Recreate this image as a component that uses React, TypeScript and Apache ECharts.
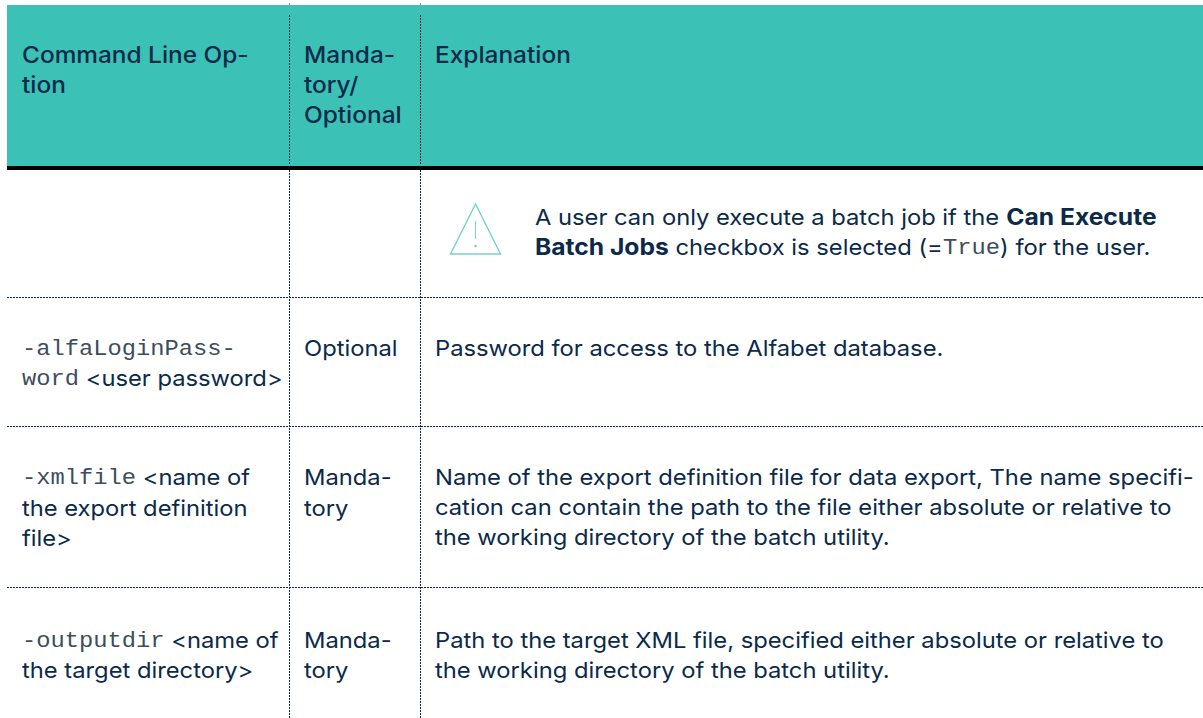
import React, { useEffect, useRef } from "react";
import * as echarts from "echarts";

const SANS = "Inter";
const MONO = "Liberation Mono";
const NAVY = "#0b2a4a";
const TEAL = "#3bc1b6";

// [x, y, text] — rich markup: {b|bold} {m|mono}
const headerLines: [number, number, string][] = [
  [22, 55, "Command Line Op-"],
  [22, 85, "tion"],
  [304, 55, "Manda-"],
  [304, 85, "tory/"],
  [304, 115, "Optional"],
  [435, 55, "Explanation"],
];
const bodyLines: [number, number, string][] = [
  [535, 217, "A user can only execute a batch job if the {b|Can Execute}"],
  [535, 247, "{b|Batch Jobs} checkbox is selected (={m|True}) for the user."],
  [22, 348, "{m|-alfaLoginPass-}"],
  [22, 378, "{m|word} <user password>"],
  [304, 348, "Optional"],
  [435, 348, "Password for access to the Alfabet database."],
  [22, 477, "{m|-xmlfile} <name of"],
  [22, 508, "the export definition"],
  [22, 538, "file>"],
  [304, 477, "Manda-"],
  [304, 508, "tory"],
  [435, 477, "Name of the export definition file for data export, The name specifi-"],
  [435, 507, "cation can contain the path to the file either absolute or relative to"],
  [435, 537, "the working directory of the batch utility."],
  [22, 640, "{m|-outputdir} <name of"],
  [22, 670, "the target directory>"],
  [304, 640, "Manda-"],
  [304, 670, "tory"],
  [435, 640, "Path to the target XML file, specified either absolute or relative to"],
  [435, 670, "the working directory of the batch utility."],
];
const columnRules = [289.5, 420.5];
const rowRules = [297.5, 426.5, 587.5];

function App() {
  const ref = useRef<HTMLDivElement>(null);
  useEffect(() => {
    const chart = echarts.init(ref.current!, undefined, { renderer: "svg" });
    const rich = {
      b: { fontFamily: SANS, fontSize: 22.8, fontWeight: 700, fill: NAVY },
      m: { fontFamily: MONO, fontSize: 22, fill: "#3d4d60", padding: [3, 0, 0, 0] },
    };
    const textEl = (l: [number, number, string], weight: number, size: number, z: number) => ({
      type: "text",
      x: l[0],
      y: l[1],
      scaleX: 1.08,
      z,
      style: {
        text: l[2],
        fontFamily: SANS,
        fontSize: size,
        fontWeight: weight,
        fill: NAVY,
        verticalAlign: "middle",
        rich,
      },
    });
    const elements: any[] = [
      { type: "rect", z: 0, shape: { x: 7, y: 5, width: 1196, height: 161 }, style: { fill: TEAL } },
      { type: "rect", z: 1, shape: { x: 7, y: 166, width: 1196, height: 4 }, style: { fill: "#000" } },
    ];
    for (const x of columnRules) {
      elements.push({ type: "line", z: 2, shape: { x1: x, y1: 3, x2: x, y2: 5 }, style: { stroke: "#7f8fa3", lineWidth: 1, lineDash: [2, 1] } });
      elements.push({ type: "line", z: 2, shape: { x1: x, y1: 15, x2: x, y2: 165 }, style: { stroke: NAVY, lineWidth: 1, lineDash: [2, 1] } });
      elements.push({ type: "line", z: 2, shape: { x1: x, y1: 170, x2: x, y2: 718 }, style: { stroke: NAVY, lineWidth: 1, lineDash: [2, 1] } });
    }
    for (const y of rowRules) {
      elements.push({ type: "line", z: 2, shape: { x1: 7, y1: y, x2: 1203, y2: y }, style: { stroke: NAVY, lineWidth: 1, lineDash: [2, 1] } });
    }
    elements.push({
      type: "polygon", z: 3,
      shape: { points: [[475.5, 204], [500.5, 254], [450.5, 254]] },
      style: { fill: "none", stroke: "#76d3cb", lineWidth: 1.4 },
    });
    elements.push({ type: "line", z: 3, shape: { x1: 475.5, y1: 221, x2: 475.5, y2: 239 }, style: { stroke: "#76d3cb", lineWidth: 1 } });
    elements.push({ type: "circle", z: 3, shape: { cx: 475.5, cy: 246, r: 1.3 }, style: { fill: "#76d3cb" } });
    for (const l of headerLines) elements.push(textEl(l, 500, 22.6, 4));
    for (const l of bodyLines) elements.push(textEl(l, 400, 22, 4));
    chart.setOption({ animation: false, graphic: { elements } });
    return () => chart.dispose();
  }, []);
  return <div ref={ref} style={{ position: "fixed", left: 0, top: 0, width: 1203, height: 718, background: "#fff" }} />;
}

export default App;
